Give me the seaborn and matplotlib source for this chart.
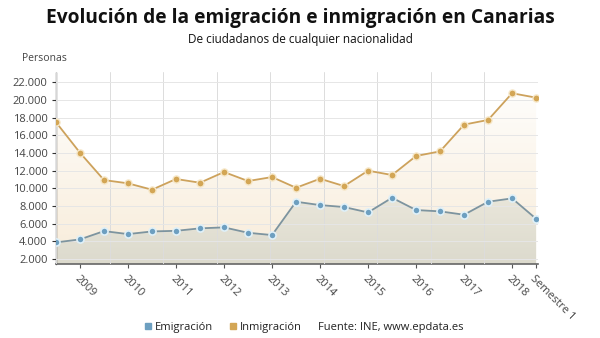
import numpy as np
import pandas as pd
import matplotlib
matplotlib.use("Agg")
import matplotlib.pyplot as plt
import seaborn as sns
from matplotlib.lines import Line2D
from matplotlib.colors import LinearSegmentedColormap

# ---- data ----
semestres = list(range(21))
emigracion = [3890, 4230, 5170, 4830, 5130, 5200, 5480, 5590, 4980, 4720, 8490,
              8110, 7890, 7280, 8940, 7550, 7400, 7020, 8490, 8870, 6560]
inmigracion = [17480, 14030, 10940, 10570, 9850, 11060, 10640, 11850, 10830, 11280, 10070,
               11090, 10260, 12000, 11510, 13660, 14190, 17210, 17740, 20760, 20260]
tick_pos = [1, 3, 5, 7, 9, 11, 13, 15, 17, 19, 20]
tick_labels = ["2009", "2010", "2011", "2012", "2013", "2014", "2015", "2016", "2017", "2018", "Semestre 1"]
yticks = [2000, 4000, 6000, 8000, 10000, 12000, 14000, 16000, 18000, 20000, 22000]

df = pd.DataFrame({
    "x": semestres * 2,
    "valor": inmigracion + emigracion,
    "serie": ["Inmigración"] * 21 + ["Emigración"] * 21,
})

sns.set_theme(style="white")
plt.rcParams["font.family"] = ["Open Sans", "DejaVu Sans"]

C_IN = "#d3a655"
C_EM = "#6d9fc0"
C_IN_LINE = "#cda25c"
C_EM_LINE = "#7d949f"

fig = plt.figure(figsize=(6, 3.38), dpi=100)
ax = fig.add_axes([0.0933, 0.219, 0.8034, 0.569])
ymin, ymax = 1450, 23200
XMAX = 20.08

def gradient_fill(xs, ys, c_top, c_bot, z):
    poly = ax.fill_between(xs, ys, ymin, color="none", lw=0, zorder=z)
    cmap = LinearSegmentedColormap.from_list("g", [c_bot, c_top])
    grad = np.linspace(0, 1, 256).reshape(-1, 1)
    top = max(ys)
    im = ax.imshow(grad, cmap=cmap, aspect="auto", origin="lower",
                   extent=[0, XMAX, ymin, top], zorder=z, interpolation="bilinear")
    im.set_clip_path(poly.get_paths()[0], transform=ax.transData)

gradient_fill(semestres, inmigracion, "#fefdfb", "#f8ecd9", 1)
gradient_fill(semestres, emigracion, "#e9e6da", "#dcdacd", 2)
ax.set_xlim(0, XMAX)
ax.set_ylim(ymin, ymax)

# grid
for gx in np.linspace(0, XMAX, 10):
    ax.axvline(gx, color="#dcdcdc", lw=0.7, zorder=3)
for gy in yticks:
    ax.axhline(gy, color="#e6e6e6", lw=0.7, zorder=3)

sns.lineplot(data=df, x="x", y="valor", hue="serie",
             palette={"Inmigración": C_IN_LINE, "Emigración": C_EM_LINE},
             lw=1.3, legend=False, ax=ax, zorder=4)
ax.scatter(semestres, inmigracion, s=26, color=C_IN, edgecolor="#f6e7c8", lw=1.0, zorder=5)
ax.scatter(semestres, emigracion, s=26, color=C_EM, edgecolor="#dff0f8", lw=1.2, zorder=5)
ax.set_xlim(0, XMAX)
ax.set_ylim(ymin, ymax)

ax.set_xlabel("")
ax.set_ylabel("")
ax.set_yticks(yticks)
ax.set_yticklabels([f"{v:,}".replace(",", ".") for v in yticks], fontsize=8, color="#444444")
ax.set_xticks(tick_pos)
ax.set_xticklabels(tick_labels, fontsize=8, color="#444444", rotation=-45,
                   ha="left", va="top", rotation_mode="anchor")
ax.tick_params(axis="x", length=3, width=0.8, color="#555555", pad=4, direction="out", bottom=True)
ax.tick_params(axis="y", length=3, width=0.8, color="#333333", pad=3, direction="out", left=True)

for s in ["top", "right"]:
    ax.spines[s].set_visible(False)
ax.spines["left"].set_linestyle((0, (1, 1)))
ax.spines["left"].set_color("#222222")
ax.spines["left"].set_linewidth(0.9)
ax.spines["bottom"].set_color("#666666")
ax.spines["bottom"].set_linewidth(1.2)

fig.text(0.5, 0.948, "Evolución de la emigración e inmigración en Canarias",
         ha="center", va="center", fontsize=13.8, fontweight="bold", color="#111111")
fig.text(0.5, 0.882, "De ciudadanos de cualquier nacionalidad",
         ha="center", va="center", fontsize=8.5, color="#111111")
fig.text(0.036, 0.828, "Personas", ha="left", va="center", fontsize=7.5, color="#444444")

handles = [Line2D([], [], marker="s", ls="none", color=C_EM, markersize=4),
           Line2D([], [], marker="s", ls="none", color=C_IN, markersize=4)]
leg = fig.legend(handles, ["Emigración", "Inmigración"], loc="center", bbox_to_anchor=(0.37, 0.03),
                 ncol=2, frameon=False, fontsize=8, handletextpad=0.1, columnspacing=1.3,
                 handlelength=1.0)
for t in leg.get_texts():
    t.set_color("#222222")
fig.text(0.53, 0.03, "Fuente: INE, www.epdata.es", ha="left", va="center", fontsize=8, color="#222222")

fig.savefig("out.png", dpi=100)
